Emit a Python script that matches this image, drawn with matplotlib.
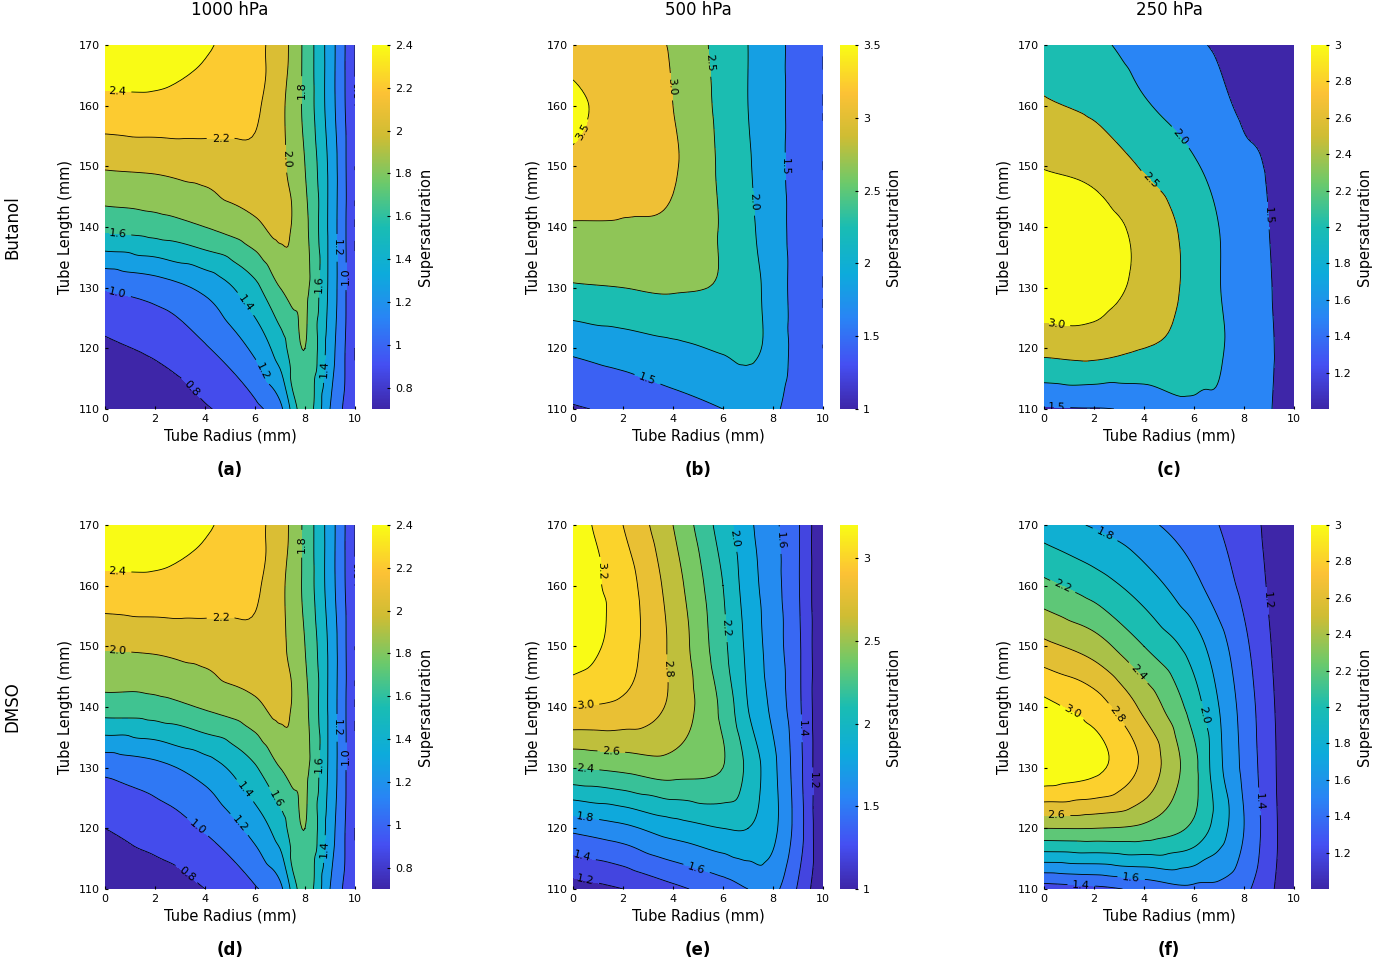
import numpy as np
import matplotlib
matplotlib.use("Agg")
import matplotlib.pyplot as plt
import matplotlib.tri as mtri
from matplotlib.colors import LinearSegmentedColormap
from matplotlib.ticker import FormatStrFormatter

radius = [0, 2, 4, 6, 7, 8, 9, 10]
length = [110, 120, 130, 140, 150, 160, 170]

# rows: length 110 -> 170 ; cols: radius
sat_a = [[0.6,0.65,0.78,0.95,1.15,1.7,1.2,0.8],
         [0.76,0.84,0.98,1.25,1.5,1.8,1.3,0.8],
         [1.02,1.1,1.25,1.55,1.8,1.85,1.35,0.8],
         [1.65,1.7,1.8,1.95,2.05,1.85,1.35,0.8],
         [2.02,2.04,2.08,2.15,2.05,1.8,1.35,0.8],
         [2.34,2.35,2.32,2.23,2.05,1.75,1.3,0.8],
         [2.55,2.52,2.42,2.25,2.1,1.75,1.3,0.8]]
sat_b = [[0.95,1.1,1.3,1.5,1.65,1.6,1.2,1.0],
         [1.6,1.75,1.9,2.05,2.1,1.85,1.3,1.0],
         [2.45,2.5,2.55,2.45,2.2,1.8,1.3,1.0],
         [2.95,2.95,2.9,2.45,2.1,1.75,1.3,1.0],
         [3.4,3.2,3.05,2.4,2.05,1.7,1.3,1.0],
         [3.6,3.3,3.0,2.35,2.0,1.7,1.3,1.0],
         [3.3,3.15,2.95,2.3,2.0,1.7,1.3,1.0]]
sat_c = [[1.45,1.48,1.6,1.9,1.95,1.75,1.55,1.0],
         [2.65,2.7,2.5,2.3,2.05,1.8,1.6,1.0],
         [3.3,3.2,2.85,2.35,2.02,1.75,1.55,1.0],
         [3.3,3.2,2.85,2.3,2.0,1.7,1.5,1.0],
         [2.98,2.85,2.45,2.05,1.85,1.6,1.45,1.0],
         [2.55,2.4,2.05,1.75,1.6,1.42,1.3,1.0],
         [2.3,2.1,1.8,1.55,1.45,1.3,1.15,1.0]]
sat_d = [[0.62,0.68,0.8,0.98,1.15,1.7,1.2,0.8],
         [0.8,0.9,1.02,1.28,1.5,1.8,1.3,0.8],
         [1.06,1.14,1.3,1.58,1.8,1.85,1.35,0.8],
         [1.7,1.72,1.82,1.95,2.05,1.85,1.35,0.8],
         [2.02,2.04,2.08,2.15,2.05,1.8,1.35,0.8],
         [2.34,2.35,2.32,2.23,2.05,1.75,1.3,0.8],
         [2.55,2.52,2.42,2.25,2.1,1.75,1.3,0.8]]
sat_e = [[1.1,1.2,1.35,1.5,1.6,1.65,1.38,1.0],
         [1.65,1.75,1.9,2.0,2.0,1.85,1.5,1.0],
         [2.4,2.45,2.5,2.4,2.15,1.85,1.48,1.0],
         [3.0,2.95,2.75,2.35,2.0,1.75,1.45,1.0],
         [3.3,3.1,2.75,2.25,1.95,1.7,1.44,1.0],
         [3.3,3.1,2.7,2.2,1.9,1.68,1.42,1.0],
         [3.3,3.0,2.6,2.1,1.85,1.65,1.42,1.0]]
sat_f = [[1.3,1.35,1.45,1.55,1.55,1.45,1.25,1.0],
         [2.4,2.4,2.35,2.15,1.9,1.6,1.3,1.0],
         [3.15,3.05,2.75,2.25,1.85,1.55,1.28,1.0],
         [3.05,2.9,2.55,2.1,1.8,1.52,1.26,1.0],
         [2.65,2.5,2.2,1.9,1.68,1.45,1.22,1.0],
         [2.25,2.1,1.9,1.65,1.5,1.35,1.18,1.0],
         [1.9,1.78,1.65,1.5,1.4,1.3,1.15,1.0]]

panels = [sat_a, sat_b, sat_c, sat_d, sat_e, sat_f]
letters = ["(a)", "(b)", "(c)", "(d)", "(e)", "(f)"]
inner_levels = [np.arange(0.8, 2.41, 0.2), np.arange(1.0, 3.51, 0.5), np.arange(1.5, 3.01, 0.5),
                np.arange(0.8, 2.41, 0.2), np.arange(1.2, 3.21, 0.2), np.arange(1.2, 3.01, 0.2)]
clims = [(0.7, 2.4), (1.0, 3.5), (1.0, 3.0), (0.7, 2.4), (1.0, 3.2), (1.0, 3.0)]
cticks = [[0.8,1,1.2,1.4,1.6,1.8,2,2.2,2.4], [1,1.5,2,2.5,3,3.5], [1.2,1.4,1.6,1.8,2,2.2,2.4,2.6,2.8,3],
          [0.8,1,1.2,1.4,1.6,1.8,2,2.2,2.4], [1,1.5,2,2.5,3], [1.2,1.4,1.6,1.8,2,2.2,2.4,2.6,2.8,3]]
pressures = ["1000 hPa", "500 hPa", "250 hPa"]
rows = ["Butanol", "DMSO"]

parula = LinearSegmentedColormap.from_list("parula", [
    (0.0, (0.2422,0.1504,0.6603)), (0.12, (0.2700,0.3100,0.9500)), (0.25, (0.1600,0.5200,0.9600)),
    (0.37, (0.0500,0.6700,0.8600)), (0.5, (0.1000,0.7400,0.7000)), (0.62, (0.4200,0.7900,0.4200)),
    (0.75, (0.8100,0.7400,0.2000)), (0.87, (0.9900,0.7600,0.2100)), (1.0, (0.9769,0.9839,0.0805))])

W, H = 1387, 969
fig = plt.figure(figsize=(W/100, H/100), dpi=100)
lefts = [105, 573, 1044]
tops = [45, 525]
R, L = np.meshgrid(radius, length)
tri = mtri.Triangulation(R.ravel(), L.ravel())
refiner = mtri.UniformTriRefiner(tri)
for i, z in enumerate(panels):
    r, c = divmod(i, 3)
    x0 = lefts[c]; y0 = tops[r]
    ax = fig.add_axes([x0/W, 1-(y0+364)/H, 250/W, 364/H])
    Z = np.array(z, dtype=float).ravel()
    interp = mtri.CubicTriInterpolator(tri, Z, kind="geom")
    tri_r, z_r = refiner.refine_field(Z, triinterpolator=interp, subdiv=4)
    inner = [v for v in inner_levels[i] if z_r.min() < v < z_r.max()]
    lv = [z_r.min() - 1] + inner + [z_r.max() + 1]
    nb = len(lv) - 1
    cols = [parula(k / (nb - 1)) for k in range(nb)]
    ax.tricontourf(tri_r, z_r, levels=lv, colors=cols)
    cl = ax.tricontour(tri_r, z_r, levels=inner, colors="k", linewidths=0.6)
    ax.clabel(cl, fmt="%.1f", fontsize=8, inline=True)
    ax.set_xlim(0, 10); ax.set_ylim(110, 170)
    ax.set_xticks([0,2,4,6,8,10]); ax.set_yticks(range(110,171,10))
    ax.tick_params(labelsize=8, length=2, direction="in")
    for s in ax.spines.values(): s.set_visible(False)
    ax.set_xlabel("Tube Radius (mm)", fontsize=10.5, labelpad=3)
    ax.set_ylabel("Tube Length (mm)", fontsize=10.5)
    vmin, vmax = clims[i]
    cax = fig.add_axes([(x0+267)/W, 1-(y0+364)/H, 18/W, 364/H])
    sm = plt.cm.ScalarMappable(cmap=parula, norm=plt.Normalize(vmin, vmax))
    cb = fig.colorbar(sm, cax=cax)
    cb.set_ticks(cticks[i])
    cb.ax.yaxis.set_major_formatter(FormatStrFormatter("%g"))
    cb.ax.tick_params(labelsize=8, length=2, direction="in")
    cb.outline.set_visible(False)
    cb.set_label("Supersaturation", fontsize=10.5)
    fig.text((x0+125)/W, 1-(y0+425)/H, letters[i], ha="center", va="center", fontsize=12, fontweight="bold")
for c in range(3):
    fig.text((lefts[c]+125)/W, 1-10/H, pressures[c], ha="center", va="center", fontsize=12)
for r in range(2):
    fig.text(12/W, 1-(tops[r]+182)/H, rows[r], rotation=90, ha="center", va="center", fontsize=12)
fig.savefig("out.png", dpi=100)
